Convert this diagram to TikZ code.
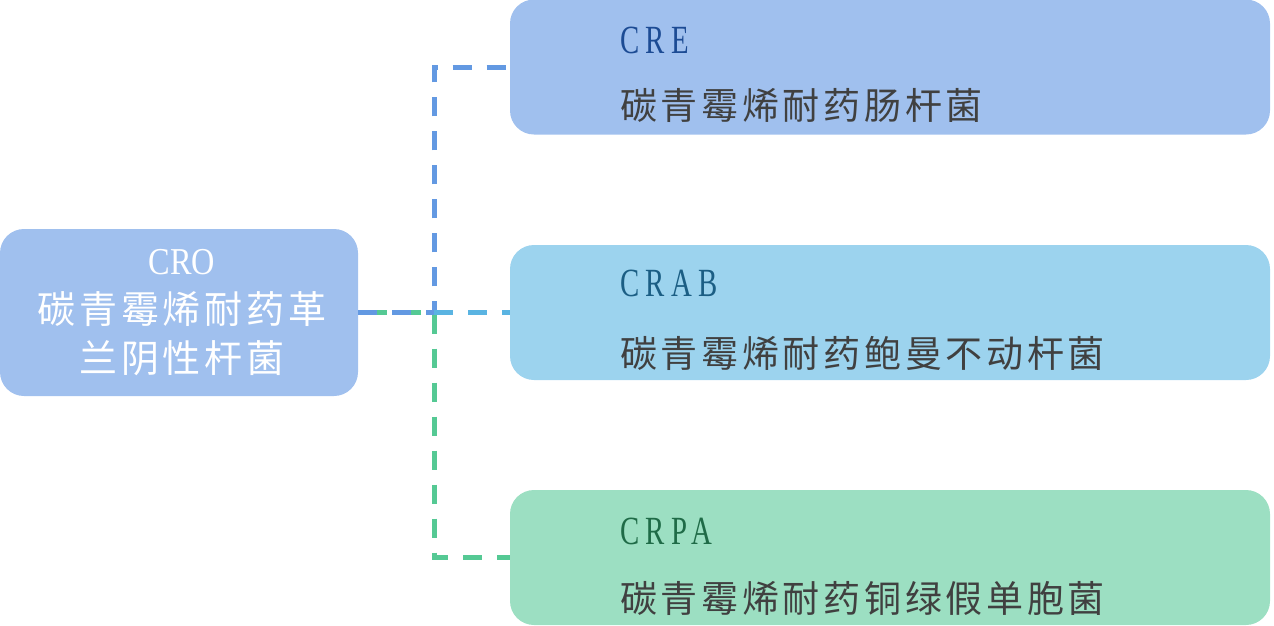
\documentclass[tikz,border=0pt]{standalone}
\usepackage{fontspec}
\setmainfont{Liberation Serif}
\newfontfamily\cjk[LetterSpace=10]{Noto Sans CJK SC}
\newfontfamily\latn[FakeStretch=0.85]{Liberation Serif}
\newfontfamily\latnwide[FakeStretch=0.72,LetterSpace=16]{Liberation Serif}

\definecolor{boxblue}{HTML}{A0C0EE}
\definecolor{boxcyan}{HTML}{9CD3EE}
\definecolor{boxgreen}{HTML}{9CDFC2}
\definecolor{lineblue}{HTML}{6399E2}
\definecolor{linecyan}{HTML}{5AB4E2}
\definecolor{linegreen}{HTML}{55C994}
\definecolor{tagblue}{HTML}{1C4B94}
\definecolor{tagteal}{HTML}{1B5E84}
\definecolor{taggreen}{HTML}{1F6B47}
\definecolor{namegray}{HTML}{404040}

\tikzset{
  bactbox/.style={rounded corners=24pt,inner sep=0pt,minimum width=760pt,minimum height=135pt},
  link/.style={line width=5pt,dash pattern=on 19pt off 15pt},
  bacttag/.style={anchor=west,inner sep=0pt,font=\latnwide\fontsize{40}{40}\selectfont},
  bactname/.style={anchor=west,inner sep=0pt,text=namegray,font=\cjk\fontsize{37}{40}\selectfont}
}

\begin{document}
\begin{tikzpicture}[x=1pt,y=-1pt]
  \useasboundingbox (0,0) rectangle (1274,625);
  % boxes
  \node[bactbox,fill=boxblue,minimum width=358pt,minimum height=167pt] (cro) at (179,312.5) {};
  \node[bactbox,fill=boxblue] (cre) at (890,67) {};
  \node[bactbox,fill=boxcyan] (crab) at (890,312.5) {};
  \node[bactbox,fill=boxgreen] (crpa) at (890,557.5) {};
  % connectors
  \coordinate (hub) at (434,312.5);
  \draw[link,linegreen,dash phase=24pt] (cro.east) -- (hub) |- (crpa.west);
  \draw[link,lineblue] (cro.east) -- (hub) |- (cre.west);
  \draw[link,linecyan] (hub) -- (crab.west);
  % texts
  \node[align=center,text=white,inner sep=0pt,font=\cjk\fontsize{38}{49}\selectfont] (crotext) at (182,313)
    {{\latn CRO}\\碳青霉烯耐药革\\兰阴性杆菌};
  \node[bacttag,text=tagblue] (cretag) at (620,40) {CRE};
  \node[bactname] (crename) at (620,105) {碳青霉烯耐药肠杆菌};
  \node[bacttag,text=tagteal] (crabtag) at (620,283) {CRAB};
  \node[bactname] (crabname) at (620,353) {碳青霉烯耐药鲍曼不动杆菌};
  \node[bacttag,text=taggreen] (crpatag) at (620,531) {CRPA};
  \node[bactname] (crpaname) at (620,598) {碳青霉烯耐药铜绿假单胞菌};
\end{tikzpicture}
\end{document}
